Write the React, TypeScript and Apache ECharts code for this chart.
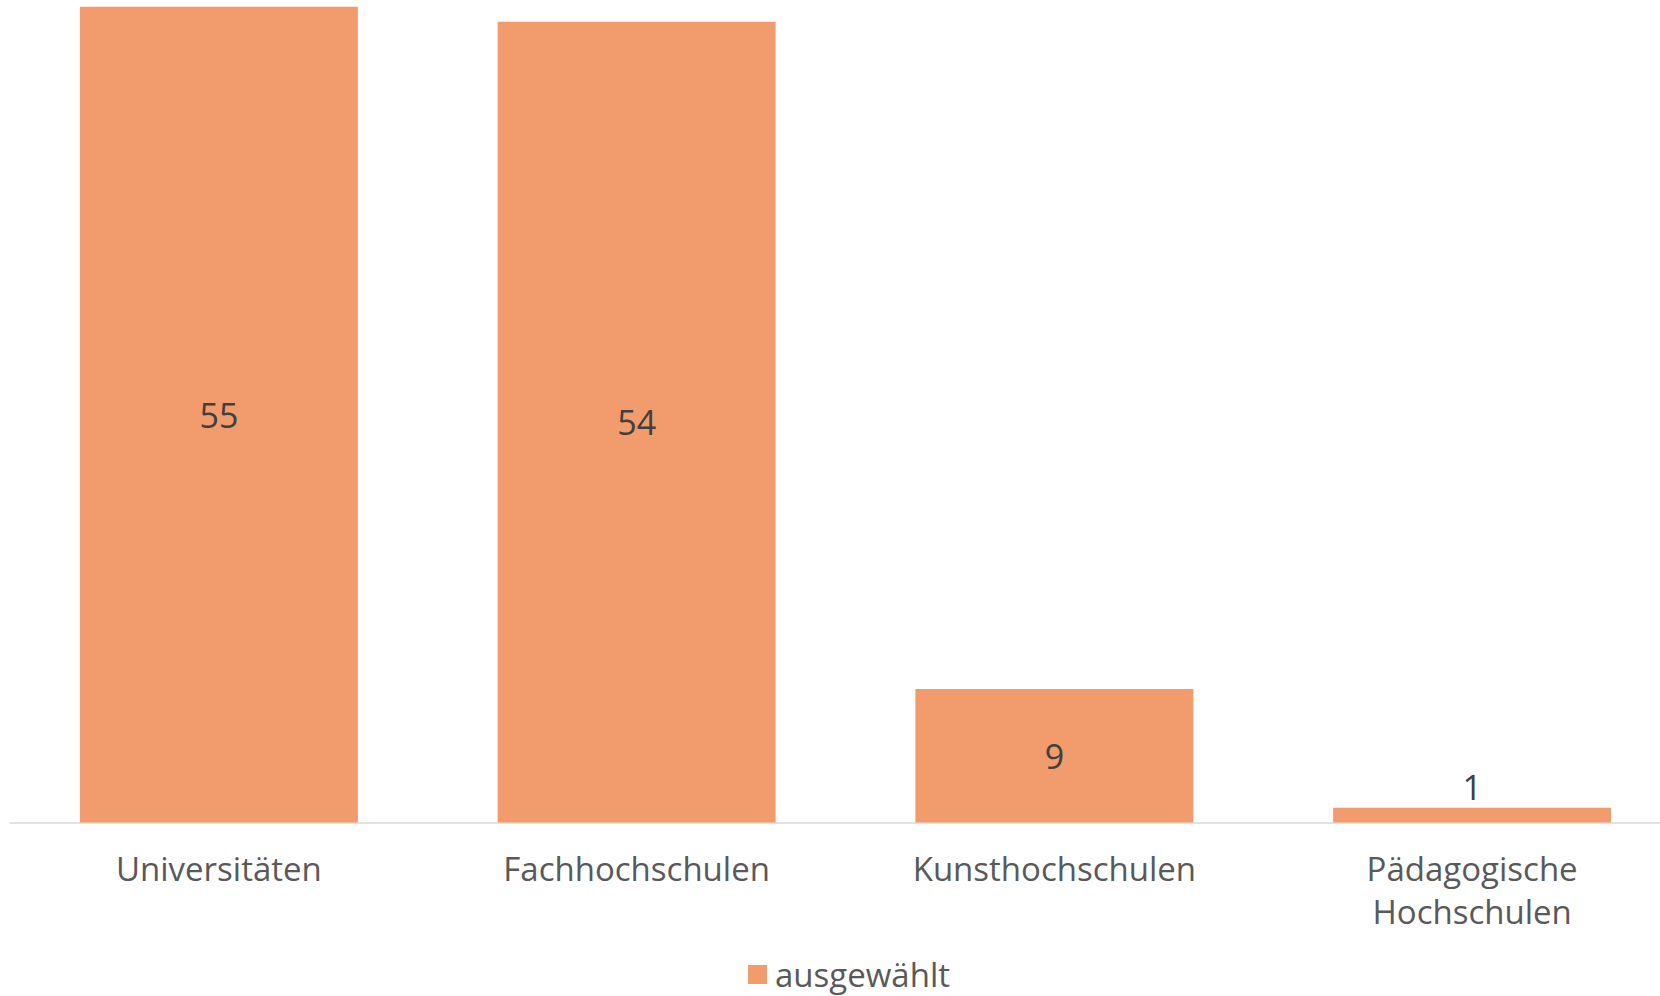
import React, { useEffect, useRef } from "react";
import * as echarts from "echarts";

const categories = ["Universitäten", "Fachhochschulen", "Kunsthochschulen", "Pädagogische\nHochschulen"];
const seriesName = "ausgewählt";
const values = [55, 54, 9, 1];
const outsideLabelIndex = [3];

export default function App() {
  const ref = useRef<HTMLDivElement>(null);
  useEffect(() => {
    document.body.style.margin = "0";
    document.body.style.overflow = "hidden";
    const chart = echarts.init(ref.current!, null, { renderer: "svg" });
    const font = "'Open Sans', 'Liberation Sans', sans-serif";
    chart.setOption({
      animation: false,
      backgroundColor: "#ffffff",
      grid: { left: 10, width: 1671, top: 0, bottom: 173.5, containLabel: false },
      legend: {
        data: [seriesName],
        left: 743,
        top: 953,
        icon: "rect",
        itemWidth: 19,
        itemHeight: 19,
        itemGap: 10,
        textStyle: { fontFamily: font, fontSize: 33, color: "#595959", lineHeight: 33, padding: [0, 0, 0, 3] },
      },
      xAxis: {
        type: "category",
        data: categories,
        axisLine: { lineStyle: { color: "#d9d9d9", width: 1.5 } },
        axisTick: { show: false },
        axisLabel: {
          fontFamily: font,
          fontSize: 33,
          color: "#595959",
          lineHeight: 43,
          margin: 24,
          interval: 0,
        },
      },
      yAxis: { type: "value", min: 0, max: 55.46, show: false, splitLine: { show: false } },
      series: [
        {
          name: seriesName,
          type: "bar",
          barWidth: 278,
          itemStyle: { color: "#F29B6C" },
          label: {
            show: true,
            position: "inside",
            fontFamily: font,
            fontSize: 34,
            color: "#404040",
          },
          data: values.map((v, i) =>
            outsideLabelIndex.includes(i) ? { value: v, label: { position: "top", distance: 4 } } : v
          ),
        },
      ],
    });
    return () => chart.dispose();
  }, []);
  return (
    <div style={{ width: 1660, height: 996, overflow: "hidden", position: "relative" }}>
      <div ref={ref} style={{ width: 1700, height: 996 }} />
    </div>
  );
}
